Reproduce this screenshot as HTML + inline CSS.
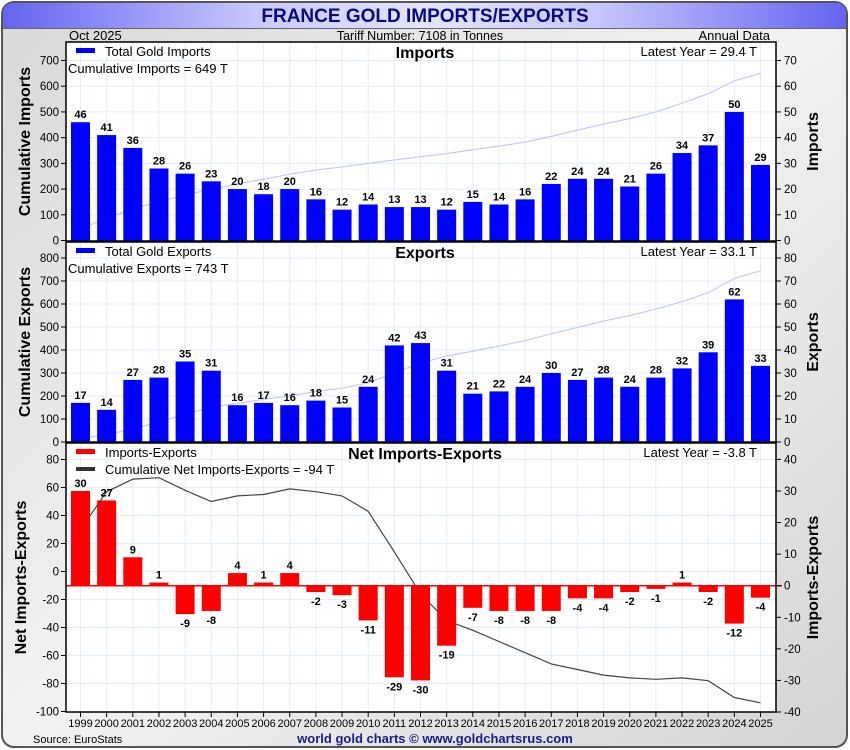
<!DOCTYPE html>
<html><head><meta charset="utf-8"><style>
body{margin:0;background:#fff;}
svg{display:block;font-family:"Liberation Sans",sans-serif;}
</style></head><body>
<svg id="chart" width="850" height="750" viewBox="0 0 850 750">
<defs>
<linearGradient id="bg" x1="0" y1="0" x2="1" y2="1"><stop offset="0" stop-color="#d8d8d8"/><stop offset="0.5" stop-color="#f2f2f2"/><stop offset="1" stop-color="#d4d4d4"/></linearGradient>
<linearGradient id="tb" x1="0" y1="0" x2="1" y2="0"><stop offset="0" stop-color="#6464f0"/><stop offset="0.3" stop-color="#c8c8ff"/><stop offset="0.5" stop-color="#e4e4ff"/><stop offset="0.7" stop-color="#c8c8ff"/><stop offset="1" stop-color="#6464f0"/></linearGradient>
</defs>
<rect x="2" y="2" width="845" height="745" rx="12" fill="url(#bg)" stroke="#555" stroke-width="2"/>
<path d="M3 28 L3 14 Q3 3 14 3 L836 3 Q846 3 846 14 L846 28 Z" fill="url(#tb)"/>
<line x1="3" y1="28.5" x2="846" y2="28.5" stroke="#666"/>
<text x="425" y="22" text-anchor="middle" font-size="19" font-weight="bold" fill="#0a0a80">FRANCE GOLD IMPORTS/EXPORTS</text>
<text x="69" y="40" font-size="13" fill="#000">Oct  2025</text>
<text x="420" y="40" text-anchor="middle" font-size="12.5" fill="#000">Tariff Number: 7108 in Tonnes</text>
<text x="770" y="40" text-anchor="end" font-size="13" fill="#000">Annual Data</text>
<text x="33" y="743" font-size="11" fill="#000">Source: EuroStats</text>
<text x="435" y="743" text-anchor="middle" font-size="13" font-weight="bold" fill="#1a1a8c">world gold charts © www.goldchartsrus.com</text>
<g id="plots"></g>
</svg>
<script>
const years=[1999,2000,2001,2002,2003,2004,2005,2006,2007,2008,2009,2010,2011,2012,2013,2014,2015,2016,2017,2018,2019,2020,2021,2022,2023,2024,2025];
const imports=[46,41,36,28,26,23,20,18,20,16,12,14,13,13,12,15,14,16,22,24,24,21,26,34,37,50,29.4];
const exports=[17,14,27,28,35,31,16,17,16,18,15,24,42,43,31,21,22,24,30,27,28,24,28,32,39,62,33.1];
const netVals=[30,27,9,1,-9,-8,4,1,4,-2,-3,-11,-29,-30,-19,-7,-8,-8,-8,-4,-4,-2,-1,1,-2,-12,-3.8];
const leftTicks1=[0,100,200,300,400,500,600,700];
const rightTicks1=[0,10,20,30,40,50,60,70];
const leftTicks2=[0,100,200,300,400,500,600,700,800];
const rightTicks2=[0,10,20,30,40,50,60,70,80];
const leftTicks3=[-100,-80,-60,-40,-20,0,20,40,60,80];
const rightTicks3=[-40,-30,-20,-10,0,10,20,30,40];

const NS="http://www.w3.org/2000/svg";
const root=document.getElementById('plots');
function mk(tag,attrs,parent,txt){const e=document.createElementNS(NS,tag);for(const k in attrs)e.setAttribute(k,attrs[k]);if(txt!==undefined)e.textContent=txt;(parent||root).appendChild(e);return e;}
const X0=66,X1=776;
function xc(i){return 80.5+i*(760.5-80.5)/(years.length-1);}
function cum(a){let s=0;return a.map(v=>s+=v);}
function lin(v0,p0,v1,p1){return v=>p0+(v-v0)*(p1-p0)/(v1-v0);}

function panel(o){
  const g=mk('g',{});
  
  
  const bg=mk('rect',{x:X0,y:o.top,width:X1-X0,height:o.bot-o.top,fill:'#fff'},g);
  
  
  o.lt.forEach(t=>{const y=o.yl(t);if(y>o.top+1&&y<o.bot-1)mk('line',{x1:X0,x2:X1,y1:y,y2:y,stroke:'#e2eef8'},g);});
  years.forEach((yr,i)=>mk('line',{x1:xc(i),x2:xc(i),y1:o.top,y2:o.bot,stroke:'#e2eef8'},g));
  const c=cum(o.vals);
  const pts=c.map((v,i)=>xc(i)+','+o.yl(v)).join(' ');
  const pl=mk('polyline',{points:pts,fill:'none',stroke:o.lineColor,'stroke-width':1.2},g);
  
  
  const z=o.yr(0);
  o.vals.forEach((v,i)=>{
    const y=o.yr(v);
    const b=mk('rect',{x:xc(i)-9.5,y:Math.min(y,z),width:19,height:Math.max(1,Math.abs(z-y)),fill:o.barColor},g);
    
    
    const ly=v>=0?y-4:y+13;
    const t=mk('text',{x:xc(i),y:ly,'text-anchor':'middle','font-size':11,'font-weight':'bold',fill:'#000'},g,String(Math.round(v)));
    
    
  });
  if(o.zeroLine){mk('line',{x1:X0,x2:X1+6,y1:z,y2:z,stroke:'#f00','stroke-width':1.5},g);}
  mk('rect',{x:X0,y:o.top,width:X1-X0,height:o.bot-o.top,fill:'none',stroke:'#000','stroke-width':1.5},g);
  o.lt.forEach(t=>{const y=o.yl(t);mk('line',{x1:X0-5,x2:X0,y1:y,y2:y,stroke:'#000'},g);
    const tt=mk('text',{x:X0-7,y:y+4,'text-anchor':'end','font-size':11.5,fill:'#000'},g,String(t));
    
    });
  o.rt.forEach(t=>{const y=o.yr(t);mk('line',{x1:X1,x2:X1+5,y1:y,y2:y,stroke:'#000'},g);
    const tt=mk('text',{x:X1+8,y:y+4,'font-size':11.5,fill:'#000'},g,String(t));
    
    });
  const cy=(o.top+o.bot)/2;
  const la=mk('text',{x:0,y:0,transform:`translate(${o.lx},${cy}) rotate(-90)`,'text-anchor':'middle','font-size':16,'font-weight':'bold',fill:'#000'},g,o.leftLabel);
  
  
  const ra=mk('text',{x:0,y:0,transform:`translate(818,${cy}) rotate(-90)`,'text-anchor':'middle','font-size':16,'font-weight':'bold',fill:'#000'},g,o.rightLabel);
  
  
  const ti=mk('text',{x:425,y:o.top+16,'text-anchor':'middle','font-size':16,'font-weight':'bold',fill:'#000'},g,o.title);
  
  
  mk('rect',{x:76,y:o.top+6,width:19,height:5,fill:o.barColor},g);
  const l1=mk('text',{x:105,y:o.top+14,'font-size':13,fill:'#000'},g,o.leg1);
  
  
  if(o.leg2){
    if(o.leg2line){mk('rect',{x:76,y:o.top+24,width:19,height:4,fill:'#333'},g);}
    const l2=mk('text',{x:o.leg2x,y:o.top+31,'font-size':13,fill:'#000'},g,o.leg2);
    
    
  }
  const lt=mk('text',{x:757,y:o.top+14,'text-anchor':'end','font-size':13,fill:'#000'},g,o.latest);
  
  
}

const y1=lin(0,240.5,700,60.5);
panel({name:'imports',top:42,bot:241,vals:imports,yl:y1,yr:v=>y1(v*10),lt:leftTicks1,rt:rightTicks1,barColor:'#0000ff',lineColor:'#c8c8f8',
  leftLabel:'Cumulative Imports',rightLabel:'Imports',lx:30,title:'Imports',leg1:'Total Gold Imports',leg2:'Cumulative Imports = 649 T',leg2x:68,latest:'Latest Year = 29.4 T'});
const y2=lin(0,442,800,258);
panel({name:'exports',top:242,bot:442,vals:exports,yl:y2,yr:v=>y2(v*10),lt:leftTicks2,rt:rightTicks2,barColor:'#0000ff',lineColor:'#c8c8f8',
  leftLabel:'Cumulative Exports',rightLabel:'Exports',lx:30,title:'Exports',leg1:'Total Gold Exports',leg2:'Cumulative Exports = 743 T',leg2x:68,latest:'Latest Year = 33.1 T'});
const y3l=lin(0,571.5,-100,711.5);
const y3r=lin(0,585.7,-40,712);
panel({name:'net',top:443,bot:712,vals:netVals,yl:y3l,yr:y3r,lt:leftTicks3,rt:rightTicks3,barColor:'#ff0000',lineColor:'#444',zeroLine:true,
  leftLabel:'Net Imports-Exports',rightLabel:'Imports-Exports',lx:26,title:'Net Imports-Exports',leg1:'Imports-Exports',leg2:'Cumulative Net Imports-Exports = -94 T',leg2x:105,leg2line:true,latest:'Latest Year = -3.8 T'});

years.forEach((yr,i)=>{
  mk('line',{x1:xc(i),x2:xc(i),y1:712,y2:717,stroke:'#000'});
  const t=mk('text',{x:xc(i),y:727,'text-anchor':'middle','font-size':11,fill:'#000'},root,String(yr));
  
  
});
</script>
</body></html>
